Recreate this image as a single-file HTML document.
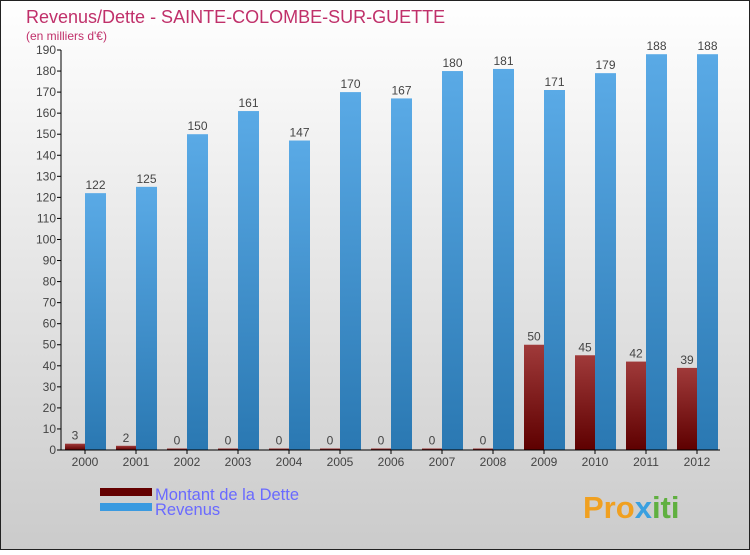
<!DOCTYPE html>
<html><head><meta charset="utf-8"><style>
body{margin:0}
#c{width:750px;height:550px;position:relative;font-family:"Liberation Sans",sans-serif}
</style></head><body>
<div id="c">
<svg id="s" width="750" height="550" xmlns="http://www.w3.org/2000/svg">
<defs>
<linearGradient id="bg" x1="0" y1="0" x2="0" y2="1"><stop offset="0" stop-color="#ffffff"/><stop offset="1" stop-color="#cbcbcb"/></linearGradient>
<linearGradient id="rev" x1="0" y1="0" x2="0" y2="1"><stop offset="0" stop-color="#5aaae6"/><stop offset="1" stop-color="#2a78b2"/></linearGradient>
<linearGradient id="debt" x1="0" y1="0" x2="0" y2="1"><stop offset="0" stop-color="#a03a3a"/><stop offset="1" stop-color="#5e0000"/></linearGradient>
</defs>
<rect x="0.5" y="0.5" width="749" height="549" fill="url(#bg)" stroke="#222"/>
<text x="26" y="23" font-size="18" fill="#c0306a">Revenus/Dette - SAINTE-COLOMBE-SUR-GUETTE</text>
<text x="26" y="40" font-size="12" fill="#c0306a">(en milliers d'€)</text>
<g id="plot"></g>
<rect x="100" y="488" width="52" height="8" fill="#640000"/>
<rect x="100" y="503" width="52" height="8" fill="#3a9ae0"/>
<text x="155" y="500" font-size="16.5" fill="#6a6aff">Montant de la Dette</text>
<text x="155" y="515" font-size="16.5" fill="#6a6aff">Revenus</text>
<text x="583" y="518" font-size="31" font-weight="bold" fill="#f0a020">Pro<tspan fill="#3aa0e0">x</tspan><tspan fill="#60b040">iti</tspan></text>
</svg>
</div>
<script>
const years=["2000","2001","2002","2003","2004","2005","2006","2007","2008","2009","2010","2011","2012"];
const debt=[3,2,0,0,0,0,0,0,0,50,45,42,39];
const revenus=[122,125,150,161,147,170,167,180,181,171,179,188,188];
const yTicks=[0,10,20,30,40,50,60,70,80,90,100,110,120,130,140,150,160,170,180,190];
const NS="http://www.w3.org/2000/svg";
const g=document.getElementById('plot');
const y0=450,yTop=50,yMax=190,x0=61,step=51;
const Y=v=>y0-v/yMax*(y0-yTop);
const X=i=>85+i*step;
function mk(t,a,txt){const e=document.createElementNS(NS,t);for(const k in a)e.setAttribute(k,a[k]);if(txt!=null)e.textContent=txt;g.appendChild(e);return e;}
yTicks.forEach(v=>{
 const l=mk('line',{x1:x0-4,x2:x0,y1:Y(v),y2:Y(v),stroke:'#000'});
 
 
 const t=mk('text',{x:x0-5,y:Y(v)+4,'font-size':12,'text-anchor':'end',fill:'#444'},v);
 
 
});
years.forEach((yr,i)=>{
 const cx=X(i);
 const hd=Math.max(Y(0)-Y(debt[i]),1.5);
 const d=mk('rect',{x:cx-20,y:y0-hd,width:20,height:hd,fill:'url(#debt)'});
 
 
 const r=mk('rect',{x:cx,y:Y(revenus[i]),width:21,height:y0-Y(revenus[i]),fill:'url(#rev)'});
 
 
 const dl=mk('text',{x:cx-10,y:y0-hd-4,'font-size':12,'text-anchor':'middle',fill:'#444'},debt[i]);
 
 
 const rl=mk('text',{x:cx+10.5,y:Y(revenus[i])-4,'font-size':12,'text-anchor':'middle',fill:'#444'},revenus[i]);
 
 
 const xl=mk('text',{x:cx,y:466,'font-size':12,'text-anchor':'middle',fill:'#444'},yr);
 
 
 const xt=mk('line',{x1:cx,x2:cx,y1:y0,y2:y0+4,stroke:'#000'});
 
 
});
const ya=mk('line',{x1:x0,x2:x0,y1:yTop,y2:y0,stroke:'#000'});


const xa=mk('line',{x1:x0,x2:720,y1:y0,y2:y0,stroke:'#000'});


</script>
</body></html>
